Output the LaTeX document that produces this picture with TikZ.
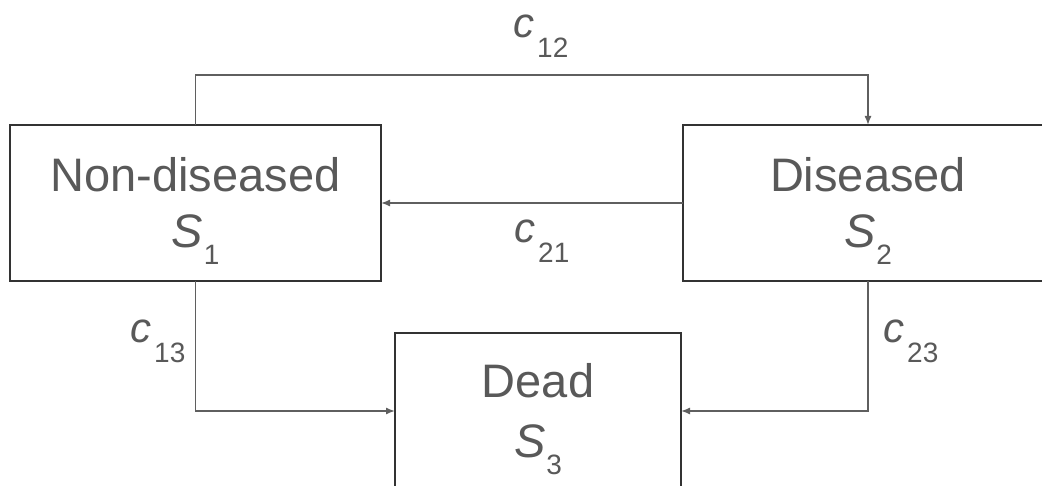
\documentclass[tikz,border=0pt]{standalone}
\usepackage{fontspec}
\setmainfont{Liberation Sans}
\usetikzlibrary{arrows.meta}
\definecolor{txt}{HTML}{595959}
\definecolor{boxc}{HTML}{333333}
\definecolor{linec}{HTML}{5F5F5F}
\newcommand\clab[1]{{\fontsize{42}{42}\selectfont\itshape c}\kern3pt\raisebox{-20pt}{\fontsize{28}{28}\selectfont #1}}
\newcommand\slab[1]{{\fontsize{47}{47}\selectfont\itshape S}\kern1pt\raisebox{-17pt}{\fontsize{28}{28}\selectfont #1}}
\tikzset{
  statebox/.style={draw=boxc, line width=2pt, rectangle, inner sep=0pt, outer sep=0pt, minimum height=156pt},
  conn/.style={draw=linec, line width=1.4pt, -{Latex[length=9pt,width=7pt]}},
  maintext/.style={anchor=base, inner sep=0pt, text=txt, font=\fontsize{47}{47}\selectfont},
  subtext/.style={anchor=base, inner sep=0pt, text=txt},
  lab/.style={anchor=base west, inner sep=0pt, text=txt}
}
\begin{document}
\begin{tikzpicture}[x=1pt,y=-1pt]
\useasboundingbox (0,0) rectangle (1042,486);
\clip (0,0) rectangle (1042,486);
\node[statebox, minimum width=371pt] (n1) at (195.5,203) {};
\node[statebox, minimum width=370pt] (n2) at (868,203) {};
\node[statebox, minimum width=286pt] (n3) at (538,411) {};
\node[maintext] (t1) at (195.5,192) {Non-diseased};
\node[maintext] (t2) at (868,192) {Diseased};
\node[maintext] (t3) at (538,398) {Dead};
\node[subtext] (s1) at (195.5,248) {\slab{1}};
\node[subtext] (s2) at (868,248) {\slab{2}};
\node[subtext] (s3) at (538,457) {\slab{3}};
\draw[conn] (n1.north) -- ++(0,-50) coordinate (k12) -| (n2.north);
\draw[conn] (n2.west) -- (n1.east);
\draw[conn] (n1.south) |- (n3.west);
\draw[conn] (n2.south) |- (n3.east);
\node[lab] (l12) at (513,38) {\clab{12}};
\node[lab] (l21) at (514,243) {\clab{21}};
\node[lab] (l13) at (130,343) {\clab{13}};
\node[lab] (l23) at (883,343) {\clab{23}};
\end{tikzpicture}
\end{document}
